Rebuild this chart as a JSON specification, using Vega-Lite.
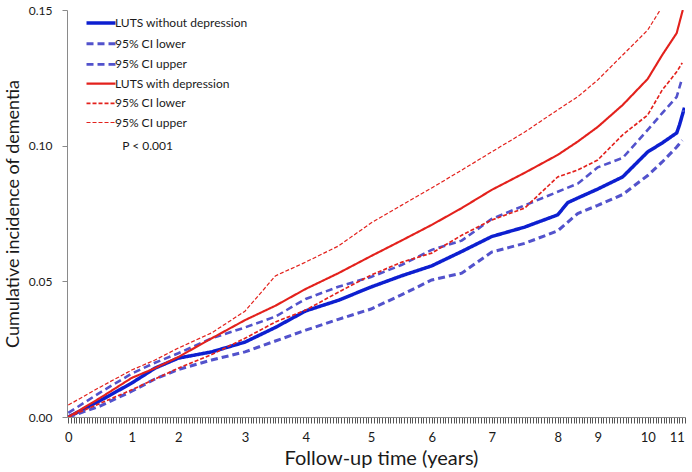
{
  "$schema": "https://vega.github.io/schema/vega-lite/v6.json",
  "width": 618,
  "height": 407,
  "autosize": {"type": "none"},
  "padding": {"left": 67, "top": 10, "right": 7, "bottom": 55},
  "background": "white",
  "config": {
    "view": {"stroke": null},
    "font": "Lato",
    "axis": {"grid": false, "domainColor": "#8a8a8a", "tickColor": "#8a8a8a", "labelColor": "#1a1a1a", "titleColor": "#1a1a1a", "labelFont": "Lato", "titleFont": "Lato", "titleFontWeight": "normal"}
  },
  "data": {"values": [
    {"s": "1LUTS without depression", "t": 0, "v": 0},
    {"s": "1LUTS without depression", "t": 0.5, "v": 0.006},
    {"s": "1LUTS without depression", "t": 1, "v": 0.0125},
    {"s": "1LUTS without depression", "t": 1.5, "v": 0.018},
    {"s": "1LUTS without depression", "t": 2, "v": 0.0217},
    {"s": "1LUTS without depression", "t": 2.5, "v": 0.024},
    {"s": "1LUTS without depression", "t": 3, "v": 0.0276},
    {"s": "1LUTS without depression", "t": 3.5, "v": 0.033},
    {"s": "1LUTS without depression", "t": 4, "v": 0.0391},
    {"s": "1LUTS without depression", "t": 4.5, "v": 0.043},
    {"s": "1LUTS without depression", "t": 5, "v": 0.0479},
    {"s": "1LUTS without depression", "t": 5.5, "v": 0.052},
    {"s": "1LUTS without depression", "t": 6, "v": 0.0557},
    {"s": "1LUTS without depression", "t": 6.5, "v": 0.061},
    {"s": "1LUTS without depression", "t": 7, "v": 0.0665},
    {"s": "1LUTS without depression", "t": 7.5, "v": 0.07},
    {"s": "1LUTS without depression", "t": 8, "v": 0.0745},
    {"s": "1LUTS without depression", "t": 8.25, "v": 0.079},
    {"s": "1LUTS without depression", "t": 8.5, "v": 0.0807},
    {"s": "1LUTS without depression", "t": 9, "v": 0.084},
    {"s": "1LUTS without depression", "t": 9.5, "v": 0.0885},
    {"s": "1LUTS without depression", "t": 10, "v": 0.0977},
    {"s": "1LUTS without depression", "t": 10.5, "v": 0.101},
    {"s": "1LUTS without depression", "t": 11, "v": 0.1047},
    {"s": "1LUTS without depression", "t": 11.1, "v": 0.1076},
    {"s": "1LUTS without depression", "t": 11.28, "v": 0.114},

    {"s": "295% CI lower", "t": 0, "v": 0},
    {"s": "295% CI lower", "t": 0.5, "v": 0.004},
    {"s": "295% CI lower", "t": 1, "v": 0.0095},
    {"s": "295% CI lower", "t": 1.5, "v": 0.014},
    {"s": "295% CI lower", "t": 2, "v": 0.0175},
    {"s": "295% CI lower", "t": 2.5, "v": 0.021},
    {"s": "295% CI lower", "t": 3, "v": 0.024},
    {"s": "295% CI lower", "t": 3.5, "v": 0.028},
    {"s": "295% CI lower", "t": 4, "v": 0.032},
    {"s": "295% CI lower", "t": 4.5, "v": 0.036},
    {"s": "295% CI lower", "t": 5, "v": 0.0398},
    {"s": "295% CI lower", "t": 5.5, "v": 0.045},
    {"s": "295% CI lower", "t": 6, "v": 0.0505},
    {"s": "295% CI lower", "t": 6.5, "v": 0.053},
    {"s": "295% CI lower", "t": 7, "v": 0.0608},
    {"s": "295% CI lower", "t": 7.5, "v": 0.064},
    {"s": "295% CI lower", "t": 8, "v": 0.0686},
    {"s": "295% CI lower", "t": 8.5, "v": 0.075},
    {"s": "295% CI lower", "t": 9, "v": 0.078},
    {"s": "295% CI lower", "t": 9.5, "v": 0.082},
    {"s": "295% CI lower", "t": 10, "v": 0.089},
    {"s": "295% CI lower", "t": 10.5, "v": 0.094},
    {"s": "295% CI lower", "t": 11, "v": 0.0995},
    {"s": "295% CI lower", "t": 11.2, "v": 0.102},

    {"s": "395% CI upper", "t": 0, "v": 0.0015},
    {"s": "395% CI upper", "t": 0.5, "v": 0.009},
    {"s": "395% CI upper", "t": 1, "v": 0.016},
    {"s": "395% CI upper", "t": 1.5, "v": 0.02},
    {"s": "395% CI upper", "t": 2, "v": 0.0235},
    {"s": "395% CI upper", "t": 2.5, "v": 0.029},
    {"s": "395% CI upper", "t": 3, "v": 0.033},
    {"s": "395% CI upper", "t": 3.5, "v": 0.037},
    {"s": "395% CI upper", "t": 4, "v": 0.0435},
    {"s": "395% CI upper", "t": 4.5, "v": 0.048},
    {"s": "395% CI upper", "t": 5, "v": 0.0516},
    {"s": "395% CI upper", "t": 5.5, "v": 0.056},
    {"s": "395% CI upper", "t": 6, "v": 0.0616},
    {"s": "395% CI upper", "t": 6.5, "v": 0.065},
    {"s": "395% CI upper", "t": 7, "v": 0.073},
    {"s": "395% CI upper", "t": 7.5, "v": 0.078},
    {"s": "395% CI upper", "t": 8, "v": 0.083},
    {"s": "395% CI upper", "t": 8.5, "v": 0.086},
    {"s": "395% CI upper", "t": 9, "v": 0.092},
    {"s": "395% CI upper", "t": 9.5, "v": 0.0955},
    {"s": "395% CI upper", "t": 10, "v": 0.1058},
    {"s": "395% CI upper", "t": 10.5, "v": 0.112},
    {"s": "395% CI upper", "t": 11, "v": 0.118},
    {"s": "395% CI upper", "t": 11.2, "v": 0.125},

    {"s": "4LUTS with depression", "t": 0, "v": 0},
    {"s": "4LUTS with depression", "t": 0.5, "v": 0.007},
    {"s": "4LUTS with depression", "t": 1, "v": 0.0144},
    {"s": "4LUTS with depression", "t": 1.5, "v": 0.018},
    {"s": "4LUTS with depression", "t": 2, "v": 0.0221},
    {"s": "4LUTS with depression", "t": 2.5, "v": 0.029},
    {"s": "4LUTS with depression", "t": 3, "v": 0.0357},
    {"s": "4LUTS with depression", "t": 3.5, "v": 0.041},
    {"s": "4LUTS with depression", "t": 4, "v": 0.0472},
    {"s": "4LUTS with depression", "t": 4.5, "v": 0.053},
    {"s": "4LUTS with depression", "t": 5, "v": 0.0593},
    {"s": "4LUTS with depression", "t": 5.5, "v": 0.065},
    {"s": "4LUTS with depression", "t": 6, "v": 0.0708},
    {"s": "4LUTS with depression", "t": 6.5, "v": 0.077},
    {"s": "4LUTS with depression", "t": 7, "v": 0.0837},
    {"s": "4LUTS with depression", "t": 7.5, "v": 0.09},
    {"s": "4LUTS with depression", "t": 8, "v": 0.0966},
    {"s": "4LUTS with depression", "t": 8.5, "v": 0.1015},
    {"s": "4LUTS with depression", "t": 9, "v": 0.1069},
    {"s": "4LUTS with depression", "t": 9.5, "v": 0.115},
    {"s": "4LUTS with depression", "t": 10, "v": 0.1246},
    {"s": "4LUTS with depression", "t": 10.5, "v": 0.1334},
    {"s": "4LUTS with depression", "t": 11, "v": 0.1415},
    {"s": "4LUTS with depression", "t": 11.22, "v": 0.15},

    {"s": "595% CI lower", "t": 0, "v": 0},
    {"s": "595% CI lower", "t": 0.5, "v": 0.005},
    {"s": "595% CI lower", "t": 1, "v": 0.01},
    {"s": "595% CI lower", "t": 1.5, "v": 0.014},
    {"s": "595% CI lower", "t": 2, "v": 0.018},
    {"s": "595% CI lower", "t": 2.5, "v": 0.023},
    {"s": "595% CI lower", "t": 3, "v": 0.029},
    {"s": "595% CI lower", "t": 3.5, "v": 0.035},
    {"s": "595% CI lower", "t": 4, "v": 0.0394},
    {"s": "595% CI lower", "t": 4.5, "v": 0.046},
    {"s": "595% CI lower", "t": 5, "v": 0.0523},
    {"s": "595% CI lower", "t": 5.5, "v": 0.057},
    {"s": "595% CI lower", "t": 6, "v": 0.0604},
    {"s": "595% CI lower", "t": 6.5, "v": 0.067},
    {"s": "595% CI lower", "t": 7, "v": 0.0726},
    {"s": "595% CI lower", "t": 7.5, "v": 0.077},
    {"s": "595% CI lower", "t": 8, "v": 0.0885},
    {"s": "595% CI lower", "t": 8.5, "v": 0.091},
    {"s": "595% CI lower", "t": 9, "v": 0.0947},
    {"s": "595% CI lower", "t": 9.5, "v": 0.104},
    {"s": "595% CI lower", "t": 10, "v": 0.1113},
    {"s": "595% CI lower", "t": 10.5, "v": 0.1205},
    {"s": "595% CI lower", "t": 11, "v": 0.1272},
    {"s": "595% CI lower", "t": 11.2, "v": 0.1305},

    {"s": "695% CI upper", "t": 0, "v": 0.0044},
    {"s": "695% CI upper", "t": 0.5, "v": 0.011},
    {"s": "695% CI upper", "t": 1, "v": 0.0173},
    {"s": "695% CI upper", "t": 1.5, "v": 0.021},
    {"s": "695% CI upper", "t": 2, "v": 0.0254},
    {"s": "695% CI upper", "t": 2.5, "v": 0.031},
    {"s": "695% CI upper", "t": 3, "v": 0.039},
    {"s": "695% CI upper", "t": 3.5, "v": 0.052},
    {"s": "695% CI upper", "t": 4, "v": 0.0571},
    {"s": "695% CI upper", "t": 4.5, "v": 0.063},
    {"s": "695% CI upper", "t": 5, "v": 0.0715},
    {"s": "695% CI upper", "t": 5.5, "v": 0.078},
    {"s": "695% CI upper", "t": 6, "v": 0.0844},
    {"s": "695% CI upper", "t": 6.5, "v": 0.091},
    {"s": "695% CI upper", "t": 7, "v": 0.0977},
    {"s": "695% CI upper", "t": 7.5, "v": 0.105},
    {"s": "695% CI upper", "t": 8, "v": 0.1132},
    {"s": "695% CI upper", "t": 8.5, "v": 0.118},
    {"s": "695% CI upper", "t": 9, "v": 0.1242},
    {"s": "695% CI upper", "t": 9.5, "v": 0.1334},
    {"s": "695% CI upper", "t": 10, "v": 0.1426},
    {"s": "695% CI upper", "t": 10.43, "v": 0.15}
  ]},
  "layer": [
    {
      "mark": {"type": "line", "clip": true, "interpolate": "linear"},
      "encoding": {
        "x": {"field": "t", "type": "quantitative",
          "scale": {"domain": [-0.02, 0, 1, 2, 3, 4, 5, 6, 7, 8, 9, 10, 11, 11.3],
                    "range": [0, 1.3, 64.7, 111.3, 178, 238.7, 304, 364.7, 424.7, 490.7, 530.7, 580.7, 609.7, 618],
                    "nice": false, "zero": false},
          "axis": {"orient": "bottom",
                   "values": [0, 0.042, 0.083, 0.125, 0.167, 0.208, 0.25, 0.292, 0.333, 0.375, 0.417, 0.458, 0.5, 0.542, 0.583, 0.625, 0.667, 0.708, 0.75, 0.792, 0.833, 0.875, 0.917, 0.958,
                              1, 1.059, 1.118, 1.176, 1.235, 1.294, 1.353, 1.412, 1.471, 1.529, 1.588, 1.647, 1.706, 1.765, 1.824, 1.882, 1.941,
                              2, 2.04, 2.08, 2.12, 2.16, 2.2, 2.24, 2.28, 2.32, 2.36, 2.4, 2.44, 2.48, 2.52, 2.56, 2.6, 2.64, 2.68, 2.72, 2.76, 2.8, 2.84, 2.88, 2.92, 2.96,
                              3, 3.045, 3.091, 3.136, 3.182, 3.227, 3.273, 3.318, 3.364, 3.409, 3.455, 3.5, 3.545, 3.591, 3.636, 3.682, 3.727, 3.773, 3.818, 3.864, 3.909, 3.955,
                              4, 4.042, 4.083, 4.125, 4.167, 4.208, 4.25, 4.292, 4.333, 4.375, 4.417, 4.458, 4.5, 4.542, 4.583, 4.625, 4.667, 4.708, 4.75, 4.792, 4.833, 4.875, 4.917, 4.958,
                              5, 5.045, 5.091, 5.136, 5.182, 5.227, 5.273, 5.318, 5.364, 5.409, 5.455, 5.5, 5.545, 5.591, 5.636, 5.682, 5.727, 5.773, 5.818, 5.864, 5.909, 5.955,
                              6, 6.045, 6.091, 6.136, 6.182, 6.227, 6.273, 6.318, 6.364, 6.409, 6.455, 6.5, 6.545, 6.591, 6.636, 6.682, 6.727, 6.773, 6.818, 6.864, 6.909, 6.955,
                              7, 7.042, 7.083, 7.125, 7.167, 7.208, 7.25, 7.292, 7.333, 7.375, 7.417, 7.458, 7.5, 7.542, 7.583, 7.625, 7.667, 7.708, 7.75, 7.792, 7.833, 7.875, 7.917, 7.958,
                              8, 8.067, 8.133, 8.2, 8.267, 8.333, 8.4, 8.467, 8.533, 8.6, 8.667, 8.733, 8.8, 8.867, 8.933,
                              9, 9.056, 9.111, 9.167, 9.222, 9.278, 9.333, 9.389, 9.444, 9.5, 9.556, 9.611, 9.667, 9.722, 9.778, 9.833, 9.889, 9.944,
                              10, 10.091, 10.182, 10.273, 10.364, 10.455, 10.545, 10.636, 10.727, 10.818, 10.909,
                              11, 11.1, 11.2, 11.3],
                   "tickCount": 1000,
                   "ticks": true, "tickSize": 6, "tickWidth": 1, "tickColor": "#555555", "tickOpacity": 1,
                   "labelExpr": "datum.value % 1 === 0 ? format(datum.value, 'd') : ''",
                   "labelOverlap": false, "labelFlush": false, "labelFontSize": 13, "labelPadding": 8,
                   "title": "Follow-up time (years)", "titleFontSize": 20, "titleBaseline": "alphabetic", "titleX": 314, "titleY": 47}},
        "y": {"field": "v", "type": "quantitative",
          "scale": {"domain": [0, 0.15], "nice": false},
          "axis": {"values": [0, 0.05, 0.1, 0.15], "format": ".2f", "tickSize": 5, "labelPadding": 10, "labelFontSize": 12,
                   "title": "Cumulative incidence of dementia", "titleFontSize": 18, "titleBaseline": "alphabetic", "titleX": -49}},
        "color": {"field": "s", "type": "nominal",
          "scale": {"domain": ["1LUTS without depression", "295% CI lower", "395% CI upper", "4LUTS with depression", "595% CI lower", "695% CI upper"],
                    "range": ["#0d1fd0", "#5252cc", "#5252cc", "#e3211c", "#e3211c", "#e3211c"]},
          "legend": {"title": null, "orient": "none", "legendX": 25, "legendY": 4, "labelExpr": "substring(datum.label, 1)",
                     "symbolType": "M-2,0H2", "symbolSize": 210, "labelFontSize": 12, "labelFont": "Lato", "labelColor": "#1a1a1a",
                     "labelOffset": 5, "rowPadding": 4.7, "padding": 0}},
        "strokeDash": {"field": "s", "type": "nominal",
          "scale": {"domain": ["1LUTS without depression", "295% CI lower", "395% CI upper", "4LUTS with depression", "595% CI lower", "695% CI upper"],
                    "range": [[1, 0], [7, 4], [7, 4], [1, 0], [4, 2], [4, 2]]},
          "legend": {"title": null, "orient": "none", "legendX": 25, "legendY": 4, "labelExpr": "substring(datum.label, 1)",
                     "symbolType": "M-2,0H2", "symbolSize": 210, "labelFontSize": 12, "labelOffset": 5, "rowPadding": 4.7, "padding": 0}},
        "strokeWidth": {"field": "s", "type": "nominal",
          "scale": {"domain": ["1LUTS without depression", "295% CI lower", "395% CI upper", "4LUTS with depression", "595% CI lower", "695% CI upper"],
                    "range": [3.5, 1.2, 1.2, 2.6, 1.6, 1.6]},
          "legend": {"title": null, "orient": "none", "legendX": 25, "legendY": 4, "labelExpr": "substring(datum.label, 1)",
                     "symbolType": "M-2,0H2", "symbolSize": 210, "labelFontSize": 12, "labelOffset": 5, "rowPadding": 4.7, "padding": 0}},
        "order": {"field": "t", "type": "quantitative"}
      }
    },
    {
      "data": {"values": [{"label": "P < 0.001", "t": 0.85, "v": 0.1}]},
      "mark": {"type": "text", "align": "left", "baseline": "middle", "fontSize": 12, "font": "Lato", "color": "#1a1a1a"},
      "encoding": {
        "x": {"field": "t", "type": "quantitative"},
        "y": {"field": "v", "type": "quantitative"},
        "text": {"field": "label"}
      }
    }
  ]
}
